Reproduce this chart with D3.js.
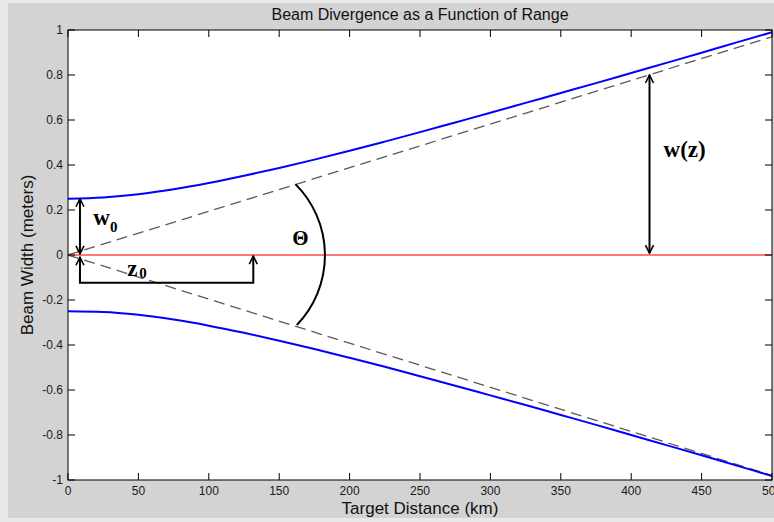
<!DOCTYPE html>
<html>
<head>
<meta charset="utf-8">
<script src="https://cdn.jsdelivr.net/npm/d3@7"></script>
<style>
  body { margin: 0; background: #ffffff; }
  svg { display: block; }
</style>
</head>
<body>
<div id="chart-container"></div>
<script>

// values
var distance   = [0, 25, 50, 75, 100, 125, 150, 175, 200, 225, 250, 275, 300, 325, 350, 375, 400, 425, 450, 475, 500];
var upperWidth = [0.25, 0.256, 0.27, 0.292, 0.32, 0.352, 0.387, 0.424, 0.463, 0.504, 0.546, 0.589, 0.632, 0.676, 0.72, 0.764, 0.809, 0.854, 0.899, 0.945, 0.99];
var lowerWidth = [-0.25, -0.253, -0.266, -0.287, -0.314, -0.346, -0.381, -0.418, -0.457, -0.497, -0.539, -0.581, -0.624, -0.667, -0.711, -0.755, -0.8, -0.845, -0.89, -0.936, -0.982];

// hand drawn helper lines (km, meters)
var asymptoteUpper = [[0, 0], [500, 0.97]];
var asymptoteLower = [[0, 0], [500, -0.98]];
var w0Arrow = [[8.5, 0.25], [8.5, 0.005]];
var z0Bracket = [[8.5, -0.01], [8.5, -0.123], [131.6, -0.123], [131.6, -0.005]];
var wzArrow = [[413, 0.80], [413, 0.008]];
var thetaArc = [[161.5, 0.315], [182.5, 0], [162.5, -0.311]];

var xTicks = [0, 50, 100, 150, 200, 250, 300, 350, 400, 450, 500];
var yTicks = [1, 0.8, 0.6, 0.4, 0.2, 0, -0.2, -0.4, -0.6, -0.8, -1];
var yTickLabels = ["1", "0.8", "0.6", "0.4", "0.2", "0", "-0.2", "-0.4", "-0.6", "-0.8", "-1"];

var W = 774, H = 522;
var margin = { top: 30, right: 2, bottom: 42, left: 68 },
    width = W - margin.left - margin.right,
    height = H - margin.top - margin.bottom;

var svg = d3.select("#chart-container")
    .append("svg")
    .attr("width", W)
    .attr("height", H);

// figure background
svg.append("rect").attr("width", W).attr("height", H).attr("fill", "#e9e9e9");
svg.append("rect").attr("x", 8).attr("y", 3).attr("width", W - 8).attr("height", 515).attr("fill", "#d3d3d3");

var defs = svg.append("defs");
defs.append("marker")
    .attr("id", "head")
    .attr("viewBox", "0 0 10 10")
    .attr("refX", 9).attr("refY", 5)
    .attr("markerWidth", 5).attr("markerHeight", 5)
    .attr("markerUnits", "strokeWidth")
    .attr("orient", "auto-start-reverse")
    .append("path")
    .attr("d", "M1,1 L9,5 L1,9")
    .attr("fill", "none")
    .attr("stroke", "#000")
    .attr("stroke-width", 1.6);
defs.append("clipPath").attr("id", "plotclip")
    .append("rect").attr("width", width).attr("height", height);

var chart = svg.append("g")
    .attr("transform", "translate(" + margin.left + "," + margin.top + ")");

chart.append("rect").attr("width", width).attr("height", height).attr("fill", "#ffffff");

var xScale = d3.scaleLinear().domain([0, 500]).range([0, width]);
var yScale = d3.scaleLinear().domain([-1, 1]).range([height, 0]);

var plot = chart.append("g").attr("clip-path", "url(#plotclip)");

var pt = d3.line()
    .x(function (d) { return xScale(d[0]); })
    .y(function (d) { return yScale(d[1]); });

var curve = d3.line()
    .x(function (d, i) { return xScale(distance[i]); })
    .y(function (d) { return yScale(d); })
    .curve(d3.curveMonotoneX);

// red centre line
plot.append("line")
    .attr("x1", xScale(0)).attr("x2", xScale(500))
    .attr("y1", yScale(0)).attr("y2", yScale(0))
    .attr("stroke", "#ff4a4a").attr("stroke-width", 1.5);

// dashed asymptotes
[asymptoteUpper, asymptoteLower].forEach(function (a) {
    plot.append("path")
        .attr("d", pt(a))
        .attr("fill", "none")
        .attr("stroke", "#5a5a5a")
        .attr("stroke-width", 1.3)
        .attr("stroke-dasharray", "11,6");
});

// beam envelope
[upperWidth, lowerWidth].forEach(function (s) {
    plot.append("path")
        .attr("d", curve(s))
        .attr("fill", "none")
        .attr("stroke", "#0000ff")
        .attr("stroke-width", 2);
});

// annotation arrows
[w0Arrow, z0Bracket, wzArrow].forEach(function (a) {
    plot.append("path").attr("d", pt(a))
        .attr("fill", "none").attr("stroke", "#000").attr("stroke-width", 2)
        .attr("marker-start", "url(#head)").attr("marker-end", "url(#head)");
});

// theta arc through three points
var p = thetaArc.map(function (d) { return [xScale(d[0]), yScale(d[1])]; });
var ax = p[0][0], ay = p[0][1], bx = p[1][0], by = p[1][1], cx = p[2][0], cy = p[2][1];
var dd = 2 * (ax * (by - cy) + bx * (cy - ay) + cx * (ay - by));
var ux = ((ax * ax + ay * ay) * (by - cy) + (bx * bx + by * by) * (cy - ay) + (cx * cx + cy * cy) * (ay - by)) / dd;
var uy = ((ax * ax + ay * ay) * (cx - bx) + (bx * bx + by * by) * (ax - cx) + (cx * cx + cy * cy) * (bx - ax)) / dd;
var r = Math.sqrt((ax - ux) * (ax - ux) + (ay - uy) * (ay - uy));
plot.append("path")
    .attr("d", "M" + ax + "," + ay + " A" + r + "," + r + " 0 0 1 " + cx + "," + cy)
    .attr("fill", "none").attr("stroke", "#000").attr("stroke-width", 2);

// labels
var serif = "'Liberation Serif', 'Times New Roman', serif";
var w0 = plot.append("text")
    .attr("x", xScale(18)).attr("y", yScale(0.133))
    .attr("font-family", serif).attr("font-weight", "bold").attr("font-size", 23)
    .text("w");
w0.append("tspan").attr("dy", 7).attr("font-size", 15).text("0");

var z0 = plot.append("text")
    .attr("x", xScale(42)).attr("y", yScale(-0.095))
    .attr("font-family", serif).attr("font-weight", "bold").attr("font-size", 23)
    .text("z");
z0.append("tspan").attr("dy", 2).attr("dx", 2).attr("font-size", 15).text("0");

plot.append("text")
    .attr("x", xScale(165)).attr("y", yScale(0.046))
    .attr("text-anchor", "middle")
    .attr("font-family", serif).attr("font-weight", "bold").attr("font-size", 21)
    .text("\u0398");

plot.append("text")
    .attr("x", xScale(423)).attr("y", yScale(0.435))
    .attr("font-family", serif).attr("font-weight", "bold").attr("font-size", 23)
    .text("w(z)");

// axes box and ticks
var ax1 = chart.append("g").attr("font-family", "'Liberation Sans', Arial, sans-serif");

ax1.append("rect").attr("width", width).attr("height", height)
    .attr("fill", "none").attr("stroke", "#000").attr("stroke-width", 1);

var tl = 7;
ax1.selectAll(".xt").data(xTicks).enter().append("path")
    .attr("d", function (d) {
        var x = xScale(d);
        return "M" + x + "," + height + "v" + (-tl) + "M" + x + ",0v" + tl;
    })
    .attr("stroke", "#000").attr("stroke-width", 1);
ax1.selectAll(".yt").data(yTicks).enter().append("path")
    .attr("d", function (d) {
        var y = yScale(d);
        return "M0," + y + "h" + tl + "M" + width + "," + y + "h" + (-tl);
    })
    .attr("stroke", "#000").attr("stroke-width", 1);

ax1.selectAll(".xl").data(xTicks).enter().append("text")
    .attr("x", function (d) { return xScale(d); })
    .attr("y", height + 15)
    .attr("text-anchor", "middle")
    .attr("font-size", 12).attr("fill", "#1a1a1a")
    .text(function (d) { return d; });
ax1.selectAll(".yl").data(yTicks).enter().append("text")
    .attr("x", -5)
    .attr("y", function (d) { return yScale(d); })
    .attr("dy", "0.35em")
    .attr("text-anchor", "end")
    .attr("font-size", 12).attr("fill", "#1a1a1a")
    .text(function (d, i) { return yTickLabels[i]; });

// titles
svg.append("text")
    .attr("x", margin.left + width / 2).attr("y", 20)
    .attr("text-anchor", "middle")
    .attr("font-family", "'Liberation Sans', Arial, sans-serif")
    .attr("font-size", 16).attr("fill", "#111")
    .text("Beam Divergence as a Function of Range");
svg.append("text")
    .attr("x", margin.left + width / 2).attr("y", 514)
    .attr("text-anchor", "middle")
    .attr("font-family", "'Liberation Sans', Arial, sans-serif")
    .attr("font-size", 17).attr("fill", "#111")
    .text("Target Distance (km)");
svg.append("text")
    .attr("transform", "translate(27," + (margin.top + height / 2) + ") rotate(-90)")
    .attr("dy", "0.35em")
    .attr("text-anchor", "middle")
    .attr("font-family", "'Liberation Sans', Arial, sans-serif")
    .attr("font-size", 17).attr("fill", "#111")
    .text("Beam Width (meters)");

</script>
</body>
</html>
